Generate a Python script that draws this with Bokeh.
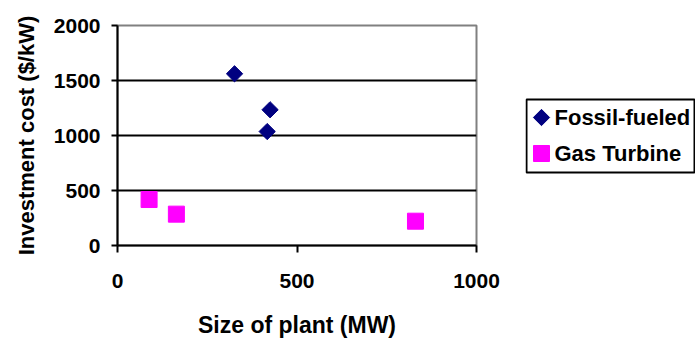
import math
from bokeh.plotting import figure
from bokeh.layouts import row
from bokeh.models import FixedTicker, Range1d
from bokeh.core.properties import value
from bokeh.embed import file_html
from bokeh.resources import INLINE

# Plant size (MW) and investment cost ($/kW)
series_names = ["Fossil-fueled", "Gas Turbine"]
fossil_size = [326, 425, 417]
fossil_cost = [1561, 1234, 1036]
gas_size = [88, 164, 830]
gas_cost = [418, 285, 221]

x_ticks = [0, 500, 1000]
y_ticks = [0, 500, 1000, 1500, 2000]

FONT = "Liberation Sans"
NAVY = "#000080"
MAGENTA = "#FF00FF"

p = figure(width=525, height=341, output_backend="svg", toolbar_location=None,
           x_range=Range1d(0, 1000), y_range=Range1d(0, 2000),
           min_border_left=117, min_border_right=49,
           min_border_top=25, min_border_bottom=96)

p.background_fill_color = "white"
p.border_fill_color = "white"
p.outline_line_color = "#808080"
p.outline_line_width = 2

p.xgrid.grid_line_color = None
p.ygrid.ticker = FixedTicker(ticks=[500, 1000, 1500])
p.ygrid.grid_line_color = "black"
p.ygrid.grid_line_width = 2

for ax in (p.xaxis[0], p.yaxis[0]):
    ax.axis_line_color = "black"
    ax.axis_line_width = 2
    ax.major_tick_line_color = "black"
    ax.major_tick_line_width = 2
    ax.minor_tick_line_color = None
    ax.major_tick_in = 0
    ax.major_label_text_font = FONT
    ax.major_label_text_font_style = "bold"
    ax.major_label_text_font_size = "21px"
    ax.major_label_text_color = "black"
    ax.axis_label_text_font = FONT
    ax.axis_label_text_font_style = "bold"
    ax.axis_label_text_color = "black"

p.xaxis.axis_label_text_font_size = "23px"
p.yaxis.axis_label_text_font_size = "22px"
p.xaxis.ticker = FixedTicker(ticks=x_ticks)
p.yaxis.ticker = FixedTicker(ticks=y_ticks)
p.xaxis.major_tick_out = 7
p.yaxis.major_tick_out = 6
p.xaxis.major_label_standoff = 21
p.yaxis.major_label_standoff = 11
p.xaxis.axis_label = "Size of plant (MW)"
p.yaxis.axis_label = "Investment cost ($/kW)"
p.xaxis.axis_label_standoff = 21
p.yaxis.axis_label_standoff = 12

p.scatter(fossil_size, fossil_cost, marker="square", size=11.5,
          angle=math.pi / 4, fill_color=NAVY, line_color=NAVY)
p.scatter(gas_size, gas_cost, marker="square", size=16,
          fill_color=MAGENTA, line_color=MAGENTA)

# Legend panel to the right of the chart, in pixel-like units
key = figure(width=170, height=341, output_backend="svg", toolbar_location=None,
             x_range=Range1d(-1, 169), y_range=Range1d(0, 220),
             min_border_left=0, min_border_right=0,
             min_border_top=25, min_border_bottom=96)
key.axis.visible = False
key.grid.visible = False
key.background_fill_color = "white"
key.border_fill_color = "white"
key.outline_line_color = None

key.quad(left=[0], right=[168], bottom=[73], top=[146],
         fill_color="white", line_color="black", line_width=2)
key_y = [128, 92]
key.scatter([15], [key_y[0]], marker="square", size=11.5, angle=math.pi / 4,
            fill_color=NAVY, line_color=NAVY)
key.scatter([15], [key_y[1]], marker="square", size=16,
            fill_color=MAGENTA, line_color=MAGENTA)
key.text([28, 28], key_y, text=series_names, text_font=value(FONT),
         text_font_style="bold", text_font_size="22px",
         text_baseline="middle", text_align="left", text_color="black")

layout = row(p, key, spacing=0)
open("out.html", "w").write(file_html(layout, INLINE))
